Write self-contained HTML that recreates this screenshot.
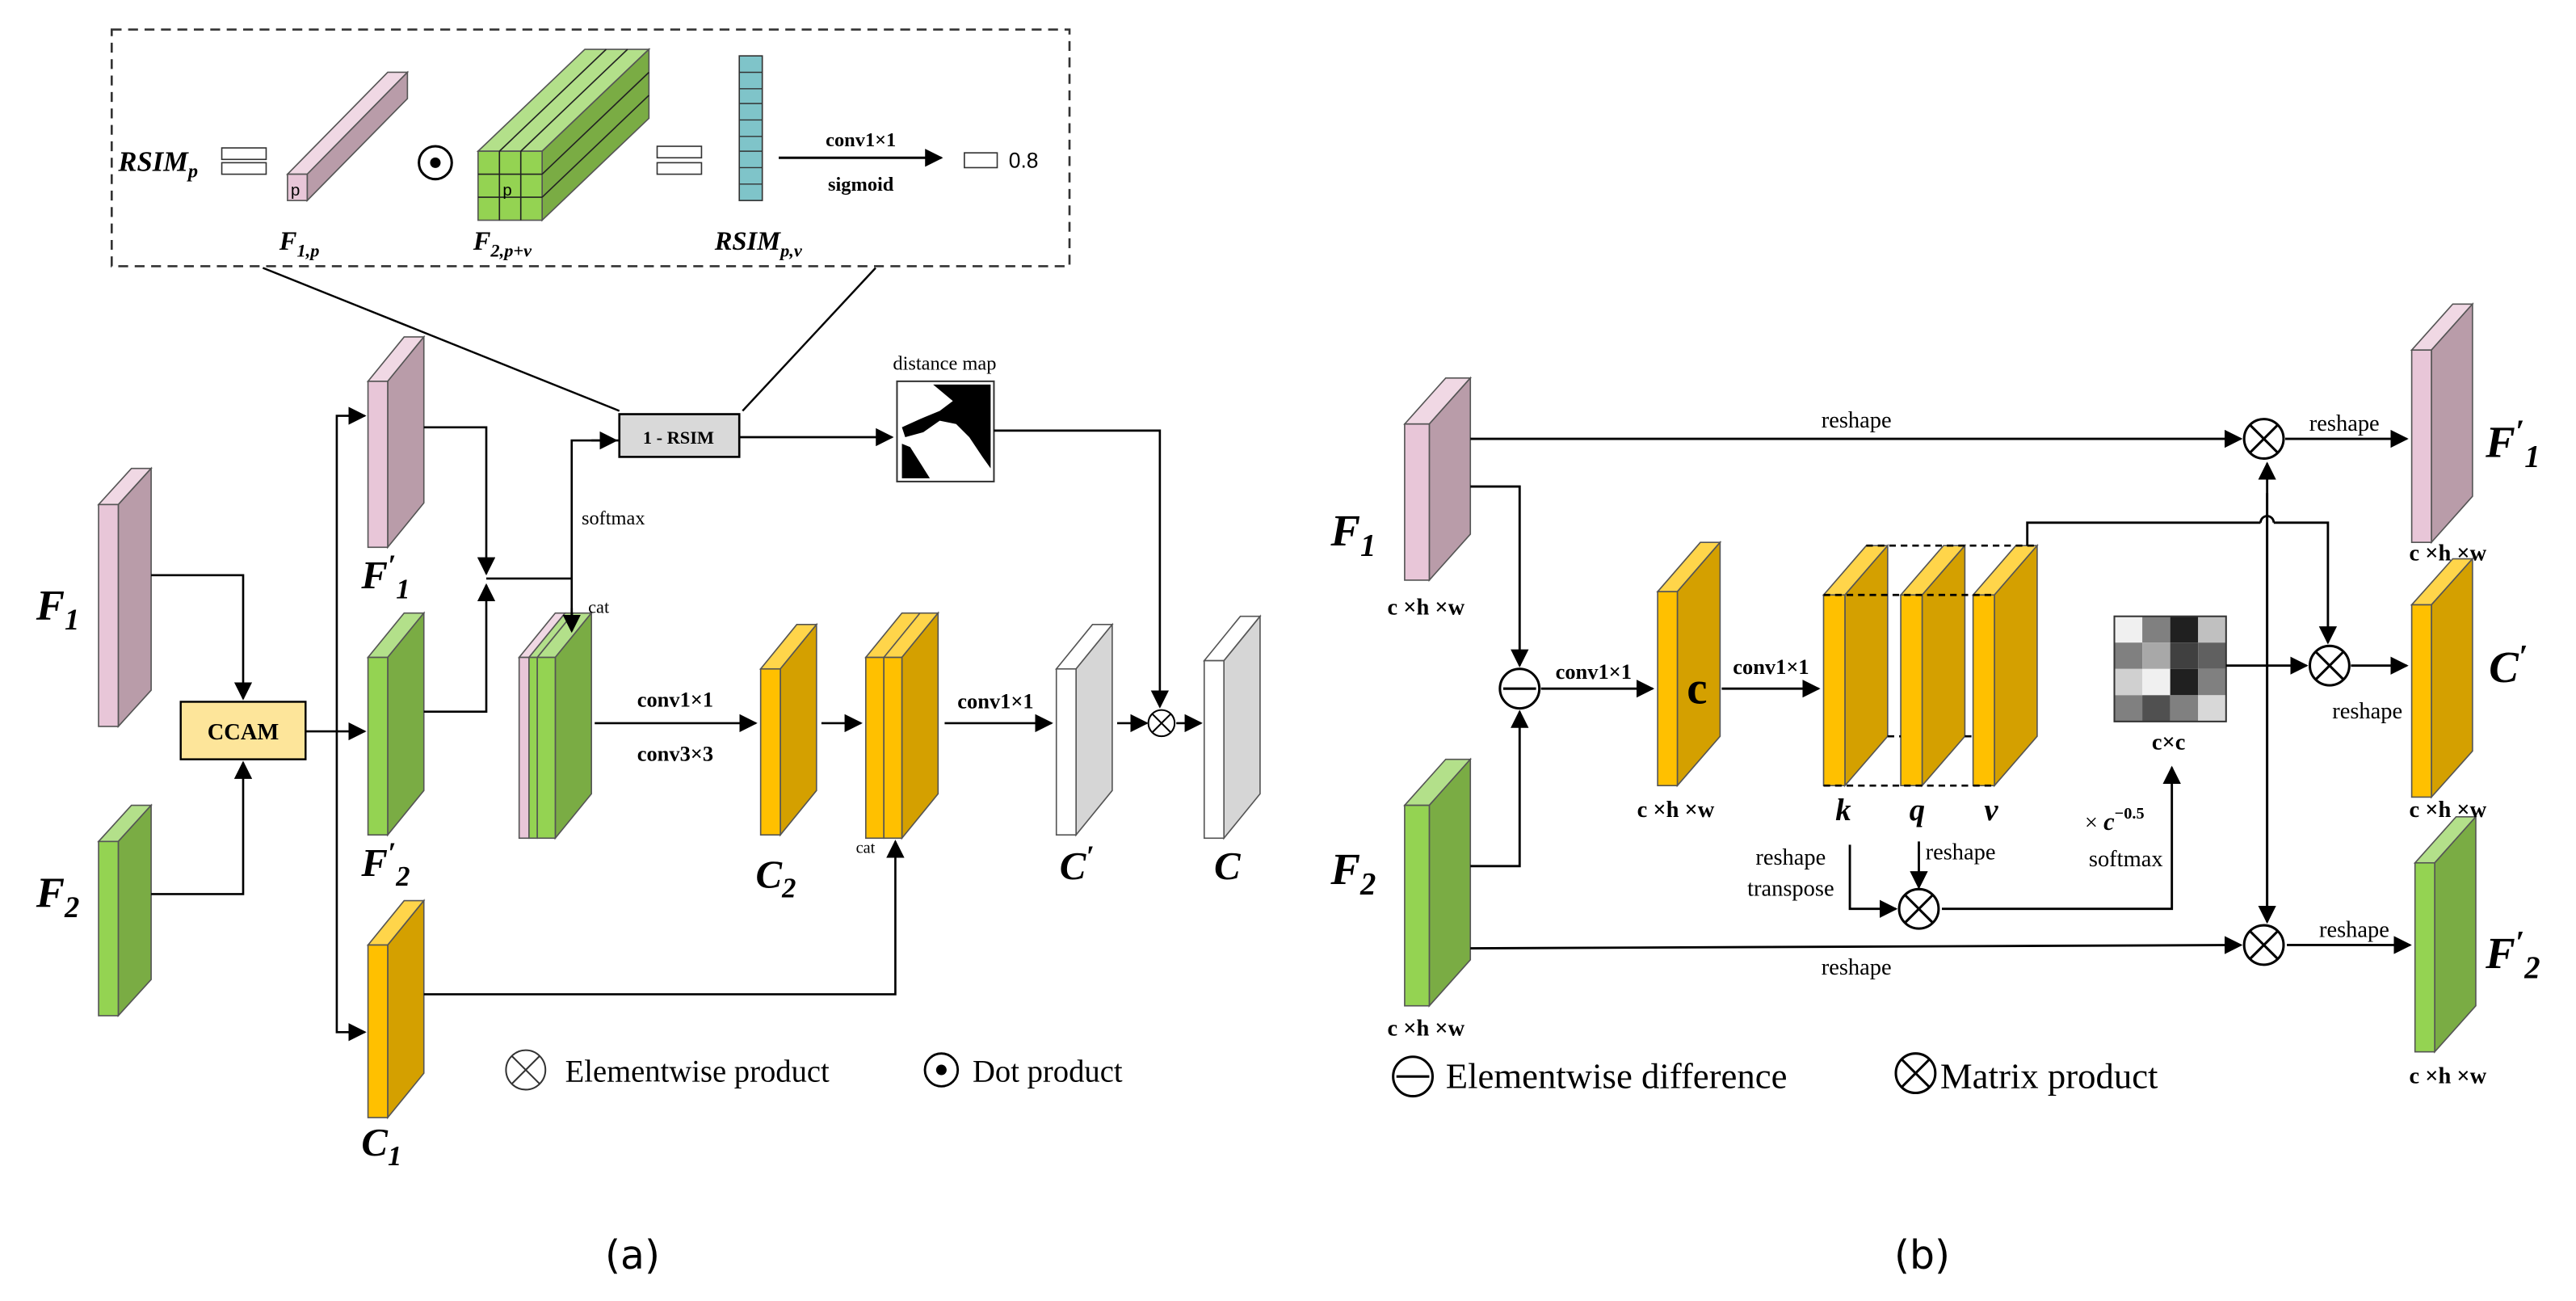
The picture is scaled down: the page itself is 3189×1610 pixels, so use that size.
<!DOCTYPE html>
<html><head><meta charset="utf-8"><style>
html,body{margin:0;padding:0;background:#fff;}
svg{display:block;}
text{font-family:"Liberation Serif",serif;fill:#000;}
.L{font-weight:bold;font-style:italic;}
</style></head><body>
<svg width="3189" height="1610" viewBox="0 0 1568 791.6" preserveAspectRatio="none" xmlns="http://www.w3.org/2000/svg">
<defs>
<marker id="b" viewBox="0 0 10 10" refX="9" refY="5" markerWidth="11" markerHeight="11" orient="auto" markerUnits="userSpaceOnUse"><path d="M0,0L10,5L0,10z" fill="#000"/></marker>
</defs>
<g stroke="#555" stroke-width="0.8">
<polygon points="60,307 80,285 92,285 72,307" fill="#f0d8e4"/><polygon points="72,307 92,285 92,420 72,442" fill="#b99ca9"/><rect x="60" y="307" width="12" height="135" fill="#e8c6d8"/>
<polygon points="60,512 80,490 92,490 72,512" fill="#b3e08a"/><polygon points="72,512 92,490 92,596 72,618" fill="#7aac44"/><rect x="60" y="512" width="12" height="106" fill="#94d352"/>
<polygon points="224,232 246,205 258,205 236,232" fill="#f0d8e4"/><polygon points="236,232 258,205 258,306 236,333" fill="#b99ca9"/><rect x="224" y="232" width="12" height="101" fill="#e8c6d8"/>
<polygon points="224,400 246,373 258,373 236,400" fill="#b3e08a"/><polygon points="236,400 258,373 258,481 236,508" fill="#7aac44"/><rect x="224" y="400" width="12" height="108" fill="#94d352"/>
<polygon points="224,575 246,548 258,548 236,575" fill="#ffd54a"/><polygon points="236,575 258,548 258,653 236,680" fill="#d4a000"/><rect x="224" y="575" width="12" height="105" fill="#ffc000"/>
<polygon points="316,400 338,373 344,373 322,400" fill="#f0d8e4"/><rect x="316" y="400" width="6" height="110" fill="#e8c6d8"/>
<polygon points="327,400 349,373 360,373 338,400" fill="#b3e08a"/><polygon points="338,400 360,373 360,483 338,510" fill="#7aac44"/><rect x="327" y="400" width="11" height="110" fill="#94d352"/>
<polygon points="322,400 344,373 349,373 327,400" fill="#b3e08a"/><rect x="322" y="400" width="5" height="110" fill="#94d352"/>
<polygon points="463,407 485,380 497,380 475,407" fill="#ffd54a"/><polygon points="475,407 497,380 497,481 475,508" fill="#d4a000"/><rect x="463" y="407" width="12" height="101" fill="#ffc000"/>
<polygon points="527,400 549,373 571,373 549,400" fill="#ffd54a"/><polygon points="549,400 571,373 571,483 549,510" fill="#d4a000"/>
<rect x="527" y="400" width="11" height="110" fill="#ffc000"/><rect x="538" y="400" width="11" height="110" fill="#ffc000"/><line x1="538" y1="400" x2="560" y2="373"/>
<polygon points="643,407 665,380 677,380 655,407" fill="#fff"/><polygon points="655,407 677,380 677,481 655,508" fill="#d6d6d6"/><rect x="643" y="407" width="12" height="101" fill="#fff"/>
<polygon points="733,402 755,375 767,375 745,402" fill="#fff"/><polygon points="745,402 767,375 767,483 745,510" fill="#d6d6d6"/><rect x="733" y="402" width="12" height="108" fill="#fff"/>
<polygon points="175,106 236,44 248,44 187,106" fill="#f0d8e4"/><polygon points="187,106 248,44 248,60 187,122" fill="#b99ca9"/><rect x="175" y="106" width="12" height="16" fill="#e8c6d8"/>
<polygon points="291,92 356,30 395,30 330,92" fill="#b3e08a"/><polygon points="330,92 395,30 395,72 330,134" fill="#7aac44"/><rect x="291" y="92" width="39" height="42" fill="#94d352"/>
</g>
<g stroke="#222" stroke-width="0.8" fill="none">
<line x1="304" y1="92" x2="369" y2="30"/><line x1="317" y1="92" x2="382" y2="30"/>
<line x1="304" y1="92" x2="304" y2="134"/><line x1="317" y1="92" x2="317" y2="134"/>
<line x1="291" y1="106" x2="330" y2="106"/><line x1="291" y1="120" x2="330" y2="120"/>
<line x1="330" y1="106" x2="395" y2="44"/><line x1="330" y1="120" x2="395" y2="58"/>
</g>
<rect x="450" y="34" width="14" height="88" fill="#7fc4c9" stroke="#333" stroke-width="0.8"/>
<g stroke="#333" stroke-width="0.7"><line x1="450" y1="44" x2="464" y2="44"/><line x1="450" y1="54" x2="464" y2="54"/><line x1="450" y1="63" x2="464" y2="63"/><line x1="450" y1="73" x2="464" y2="73"/><line x1="450" y1="83" x2="464" y2="83"/><line x1="450" y1="92" x2="464" y2="92"/><line x1="450" y1="102" x2="464" y2="102"/><line x1="450" y1="112" x2="464" y2="112"/></g>
<text x="177" y="119" style="font-family:'Liberation Sans',sans-serif" font-size="10">p</text>
<text x="306" y="119" style="font-family:'Liberation Sans',sans-serif" font-size="10">p</text>
<rect x="68" y="18" width="583" height="144" fill="none" stroke="#333" stroke-width="1.3" stroke-dasharray="6,4"/>
<text x="72" y="104" class="L" font-size="17">RSIM<tspan font-size="12" dy="4">p</tspan></text>
<g fill="#fff" stroke="#333" stroke-width="0.8"><rect x="135" y="90" width="27" height="7"/><rect x="135" y="99" width="27" height="7"/><rect x="400" y="89" width="27" height="7"/><rect x="400" y="99" width="27" height="7"/><rect x="587" y="93" width="20" height="9"/></g>
<circle cx="265" cy="99" r="10" fill="#fff" stroke="#000" stroke-width="1.5"/><circle cx="265" cy="99" r="3.2" fill="#000"/>
<line x1="474" y1="96" x2="573" y2="96" stroke="#000" stroke-width="1.5" marker-end="url(#b)"/>
<text x="524" y="89" text-anchor="middle" font-size="12" font-weight="bold">conv1×1</text>
<text x="524" y="116" text-anchor="middle" font-size="12" font-weight="bold">sigmoid</text>
<text x="614" y="102" font-size="13" style="font-family:'Liberation Sans',sans-serif">0.8</text>
<text x="170" y="152" class="L" font-size="16">F<tspan font-size="11" dy="4">1,p</tspan></text>
<text x="288" y="152" class="L" font-size="16">F<tspan font-size="11" dy="4">2,p+v</tspan></text>
<text x="435" y="152" class="L" font-size="16">RSIM<tspan font-size="11" dy="4">p,v</tspan></text>
<g stroke="#000" stroke-width="1.2" fill="none">
<line x1="160" y1="163" x2="377" y2="250"/><line x1="533" y1="163" x2="452" y2="250"/>
</g>
<rect x="377" y="252" width="73" height="26" fill="#d9d9d9" stroke="#000" stroke-width="1.3"/>
<text x="413" y="270" text-anchor="middle" font-size="11" font-weight="bold">1 - RSIM</text>
<text x="575" y="225" text-anchor="middle" font-size="12">distance map</text>
<rect x="546" y="232" width="59" height="61" fill="#fff" stroke="#333"/>
<path d="M568,234 L603,234 L603,285 L598,278 L590,266 L582,258 L572,256 L562,263 L551,266 L549,260 L560,255 L572,250 L580,244 Z" fill="#000"/>
<path d="M549,270 L554,272 L566,291 L549,291 Z" fill="#000"/>
<g stroke="#000" stroke-width="1.3" fill="none">
<line x1="450" y1="266" x2="543" y2="266" marker-end="url(#b)"/>
<polyline points="605,262 706,262 706,430" marker-end="url(#b)"/>
<polyline points="92,350 148,350 148,425" marker-end="url(#b)"/>
<polyline points="92,544 148,544 148,464" marker-end="url(#b)"/>
<line x1="186" y1="445" x2="222" y2="445" marker-end="url(#b)"/>
<polyline points="222,253 205,253 205,628 222,628" />
<line x1="212" y1="253" x2="222" y2="253" marker-end="url(#b)"/>
<line x1="212" y1="628" x2="222" y2="628" marker-end="url(#b)"/>
<polyline points="258,260 296,260 296,349" marker-end="url(#b)"/>
<polyline points="258,433 296,433 296,356" marker-end="url(#b)"/>
<line x1="296" y1="352" x2="348" y2="352"/>
<polyline points="377,268 348,268 348,384" />
<line x1="360" y1="268" x2="375" y2="268" marker-end="url(#b)"/>
<line x1="348" y1="370" x2="348" y2="384" marker-end="url(#b)"/>
<line x1="362" y1="440" x2="460" y2="440" marker-end="url(#b)"/>
<line x1="500" y1="440" x2="524" y2="440" marker-end="url(#b)"/>
<polyline points="258,605 545,605 545,512" marker-end="url(#b)"/>
<line x1="575" y1="440" x2="640" y2="440" marker-end="url(#b)"/>
<line x1="680" y1="440" x2="698" y2="440" marker-end="url(#b)"/>
<line x1="716" y1="440" x2="731" y2="440" marker-end="url(#b)"/>
</g>
<rect x="110" y="427" width="76" height="35" fill="#fde59a" stroke="#000" stroke-width="1.2"/>
<text x="148" y="450" text-anchor="middle" font-size="14" font-weight="bold">CCAM</text>
<circle cx="707" cy="440" r="8" fill="#fff" stroke="#000"/><path d="M701.3,434.3L712.7,445.7M712.7,434.3L701.3,445.7" stroke="#000"/>
<text x="354" y="319" font-size="12">softmax</text>
<text x="358" y="373" font-size="11">cat</text>
<text x="521" y="519" font-size="10">cat</text>
<text x="411" y="430" text-anchor="middle" font-size="13" font-weight="bold">conv1×1</text>
<text x="411" y="463" text-anchor="middle" font-size="13" font-weight="bold">conv3×3</text>
<text x="606" y="431" text-anchor="middle" font-size="13" font-weight="bold">conv1×1</text>
<text x="22" y="377" class="L" font-size="26">F<tspan font-size="18" dy="6">1</tspan></text>
<text x="22" y="552" class="L" font-size="26">F<tspan font-size="18" dy="6">2</tspan></text>
<text x="220" y="358" class="L" font-size="24">F<tspan dy="-8" font-size="18">′</tspan><tspan font-size="17" dy="14">1</tspan></text>
<text x="220" y="533" class="L" font-size="24">F<tspan dy="-8" font-size="18">′</tspan><tspan font-size="17" dy="14">2</tspan></text>
<text x="220" y="703" class="L" font-size="24">C<tspan font-size="17" dy="6">1</tspan></text>
<text x="460" y="540" class="L" font-size="24">C<tspan font-size="17" dy="6">2</tspan></text>
<text x="645" y="535" class="L" font-size="24">C<tspan dy="-8" font-size="18">′</tspan></text>
<text x="739" y="535" class="L" font-size="24">C</text>
<circle cx="320" cy="651" r="12" fill="#fff" stroke="#333"/><path d="M311.5,642.5L328.5,659.5M328.5,642.5L311.5,659.5" stroke="#333"/>
<text x="344" y="658" font-size="19">Elementwise product</text>
<circle cx="573" cy="651" r="10" fill="#fff" stroke="#000" stroke-width="1.4"/><circle cx="573" cy="651" r="3.2" fill="#000"/>
<text x="592" y="658" font-size="19">Dot product</text>
<text x="385" y="772" text-anchor="middle" font-size="24" style="font-family:'DejaVu Sans',sans-serif">(a)</text>

<g stroke="#555" stroke-width="0.8">
<polygon points="855,258 880,230 895,230 870,258" fill="#f0d8e4"/><polygon points="870,258 895,230 895,325 870,353" fill="#b99ca9"/><rect x="855" y="258" width="15" height="95" fill="#e8c6d8"/>
<polygon points="855,490 880,462 895,462 870,490" fill="#b3e08a"/><polygon points="870,490 895,462 895,584 870,612" fill="#7aac44"/><rect x="855" y="490" width="15" height="122" fill="#94d352"/>
<polygon points="1009,360 1035,330 1047,330 1021,360" fill="#ffd54a"/><polygon points="1021,360 1047,330 1047,448 1021,478" fill="#d4a000"/><rect x="1009" y="360" width="12" height="118" fill="#ffc000"/>
<polygon points="1110,362 1136,332 1149,332 1123,362" fill="#ffd54a"/><polygon points="1123,362 1149,332 1149,448 1123,478" fill="#d4a000"/><rect x="1110" y="362" width="13" height="116" fill="#ffc000"/>
<polygon points="1157,362 1183,332 1196,332 1170,362" fill="#ffd54a"/><polygon points="1170,362 1196,332 1196,448 1170,478" fill="#d4a000"/><rect x="1157" y="362" width="13" height="116" fill="#ffc000"/>
<polygon points="1201,362 1227,332 1240,332 1214,362" fill="#ffd54a"/><polygon points="1214,362 1240,332 1240,448 1214,478" fill="#d4a000"/><rect x="1201" y="362" width="13" height="116" fill="#ffc000"/>
<polygon points="1468,213 1493,185 1505,185 1480,213" fill="#f0d8e4"/><polygon points="1480,213 1505,185 1505,302 1480,330" fill="#b99ca9"/><rect x="1468" y="213" width="12" height="117" fill="#e8c6d8"/>
<polygon points="1468,368 1493,340 1505,340 1480,368" fill="#ffd54a"/><polygon points="1480,368 1505,340 1505,457 1480,485" fill="#d4a000"/><rect x="1468" y="368" width="12" height="117" fill="#ffc000"/>
<polygon points="1470,525 1495,497 1507,497 1482,525" fill="#b3e08a"/><polygon points="1482,525 1507,497 1507,612 1482,640" fill="#7aac44"/><rect x="1470" y="525" width="12" height="115" fill="#94d352"/>
</g>
<g stroke="#000" stroke-width="1.3" stroke-dasharray="4,3" fill="none">
<line x1="1136" y1="332" x2="1240" y2="332"/><line x1="1110" y1="362" x2="1214" y2="362"/><line x1="1110" y1="478" x2="1214" y2="478"/>
<line x1="1149" y1="448" x2="1157" y2="448"/><line x1="1196" y1="448" x2="1201" y2="448"/>
</g>
<g>
<rect x="1287" y="375" width="17" height="16" fill="#f0f0f0"/><rect x="1304" y="375" width="17" height="16" fill="#808080"/><rect x="1321" y="375" width="17" height="16" fill="#202020"/><rect x="1338" y="375" width="17" height="16" fill="#c0c0c0"/>
<rect x="1287" y="391" width="17" height="16" fill="#808080"/><rect x="1304" y="391" width="17" height="16" fill="#a8a8a8"/><rect x="1321" y="391" width="17" height="16" fill="#404040"/><rect x="1338" y="391" width="17" height="16" fill="#606060"/>
<rect x="1287" y="407" width="17" height="16" fill="#d0d0d0"/><rect x="1304" y="407" width="17" height="16" fill="#f0f0f0"/><rect x="1321" y="407" width="17" height="16" fill="#202020"/><rect x="1338" y="407" width="17" height="16" fill="#808080"/>
<rect x="1287" y="423" width="17" height="16" fill="#808080"/><rect x="1304" y="423" width="17" height="16" fill="#505050"/><rect x="1321" y="423" width="17" height="16" fill="#808080"/><rect x="1338" y="423" width="17" height="16" fill="#d8d8d8"/>
<rect x="1287" y="375" width="68" height="64" fill="none" stroke="#333"/>
</g>
<g stroke="#000" stroke-width="1.4" fill="none">
<line x1="895" y1="267" x2="1364" y2="267" marker-end="url(#b)"/>
<line x1="1391" y1="267" x2="1465" y2="267" marker-end="url(#b)"/>
<polyline points="895,296 925,296 925,405" marker-end="url(#b)"/>
<polyline points="895,527 925,527 925,433" marker-end="url(#b)"/>
<line x1="938" y1="419" x2="1006" y2="419" marker-end="url(#b)"/>
<line x1="1048" y1="419" x2="1107" y2="419" marker-end="url(#b)"/>
<polyline points="1234,332 1234,318 1376,318"/>
<path d="M1376,318 A4,4 0 0 1 1384,318"/>
<polyline points="1384,318 1417,318 1417,391" marker-end="url(#b)"/>
<line x1="1355" y1="405" x2="1404" y2="405" marker-end="url(#b)"/>
<line x1="1431" y1="405" x2="1465" y2="405" marker-end="url(#b)"/>
<line x1="1380" y1="560" x2="1380" y2="282" marker-end="url(#b)"/>
<line x1="1380" y1="300" x2="1380" y2="561" marker-end="url(#b)"/>
<line x1="895" y1="577" x2="1364" y2="575" marker-end="url(#b)"/>
<line x1="1392" y1="575" x2="1467" y2="575" marker-end="url(#b)"/>
<polyline points="1126,514 1126,553 1154,553" marker-end="url(#b)"/>
<line x1="1168" y1="512" x2="1168" y2="540" marker-end="url(#b)"/>
<polyline points="1182,553 1322,553 1322,467" marker-end="url(#b)"/>
</g>
<g fill="#fff" stroke="#000" stroke-width="1.5">
<circle cx="925" cy="419" r="12"/><line x1="915" y1="419" x2="935" y2="419"/>
<circle cx="1378" cy="267" r="12"/><path d="M1369.5,258.5L1386.5,275.5M1386.5,258.5L1369.5,275.5"/>
<circle cx="1418" cy="405" r="12"/><path d="M1409.5,396.5L1426.5,413.5M1426.5,396.5L1409.5,413.5"/>
<circle cx="1378" cy="575" r="12"/><path d="M1369.5,566.5L1386.5,583.5M1386.5,566.5L1369.5,583.5"/>
<circle cx="1168" cy="553" r="12"/><path d="M1159.5,544.5L1176.5,561.5M1176.5,544.5L1159.5,561.5"/>
<circle cx="860" cy="655" r="12"/><line x1="850" y1="655" x2="870" y2="655"/>
<circle cx="1166" cy="653" r="12"/><path d="M1157.5,644.5L1174.5,661.5M1174.5,644.5L1157.5,661.5"/>
</g>
<text x="1130" y="260" text-anchor="middle" font-size="14">reshape</text>
<text x="1427" y="262" text-anchor="middle" font-size="14">reshape</text>
<text x="1130" y="593" text-anchor="middle" font-size="14">reshape</text>
<text x="1433" y="570" text-anchor="middle" font-size="14">reshape</text>
<text x="1441" y="437" text-anchor="middle" font-size="14">reshape</text>
<text x="1090" y="526" text-anchor="middle" font-size="14">reshape</text>
<text x="1090" y="545" text-anchor="middle" font-size="14">transpose</text>
<text x="1172" y="523" font-size="14">reshape</text>
<text x="1269" y="505" font-size="14">× <tspan class="L" font-size="15">c</tspan><tspan font-size="10" dy="-7" font-weight="bold">−0.5</tspan></text>
<text x="1294" y="527" text-anchor="middle" font-size="14">softmax</text>
<text x="970" y="413" text-anchor="middle" font-size="13" font-weight="bold">conv1×1</text>
<text x="1078" y="410" text-anchor="middle" font-size="13" font-weight="bold">conv1×1</text>
<text x="1033" y="428" text-anchor="middle" font-size="28" font-weight="bold">c</text>
<text x="1320" y="456" text-anchor="middle" font-size="14" font-weight="bold">c×c</text>
<text x="1122" y="499" text-anchor="middle" class="L" font-size="19">k</text>
<text x="1167" y="499" text-anchor="middle" class="L" font-size="19">q</text>
<text x="1212" y="499" text-anchor="middle" class="L" font-size="19">v</text>
<g font-size="14" font-weight="bold" text-anchor="middle">
<text x="868" y="374">c ×h ×w</text><text x="868" y="630">c ×h ×w</text><text x="1020" y="497">c ×h ×w</text>
<text x="1490" y="341">c ×h ×w</text><text x="1490" y="497">c ×h ×w</text><text x="1490" y="659">c ×h ×w</text>
</g>
<text x="810" y="332" class="L" font-size="27">F<tspan font-size="19" dy="6">1</tspan></text>
<text x="810" y="538" class="L" font-size="27">F<tspan font-size="19" dy="6">2</tspan></text>
<text x="1513" y="278" class="L" font-size="27">F<tspan dy="-9" font-size="20">′</tspan><tspan font-size="19" dy="15">1</tspan></text>
<text x="1515" y="415" class="L" font-size="27">C<tspan dy="-9" font-size="20">′</tspan></text>
<text x="1513" y="589" class="L" font-size="27">F<tspan dy="-9" font-size="20">′</tspan><tspan font-size="19" dy="15">2</tspan></text>
<text x="880" y="662" font-size="22">Elementwise difference</text>
<text x="1181" y="662" font-size="22">Matrix product</text>
<text x="1170" y="772" text-anchor="middle" font-size="24" style="font-family:'DejaVu Sans',sans-serif">(b)</text>
</svg>
</body></html>
